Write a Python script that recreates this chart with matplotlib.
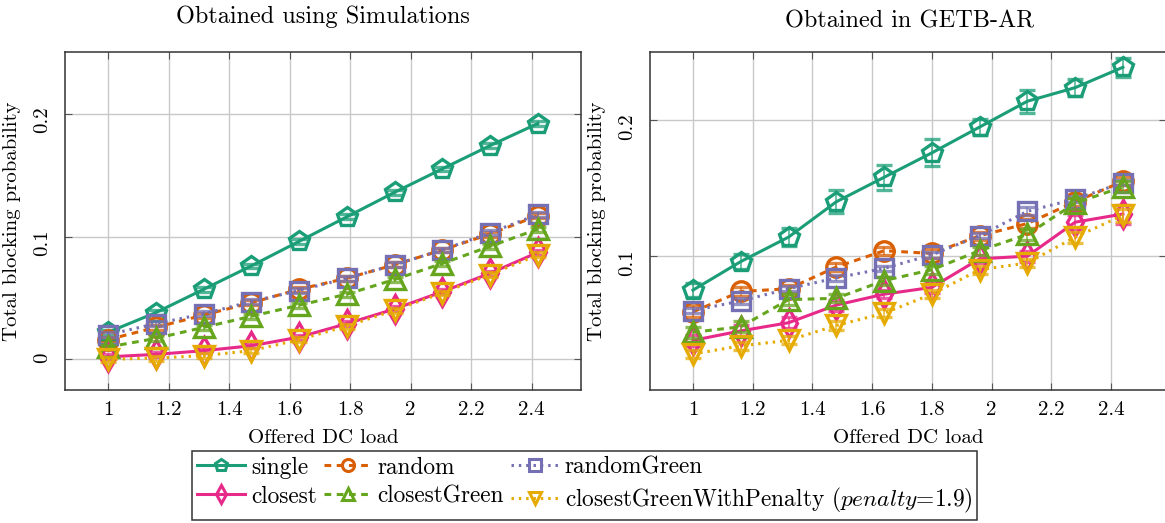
"""
Total blocking probability vs offered DC load, simulations vs GETB-AR.
"""

import matplotlib.pyplot as plt
from matplotlib.lines import Line2D

plt.rcParams['font.family'] = ['cmr10', 'DejaVu Serif']
plt.rcParams['mathtext.fontset'] = 'cm'
plt.rcParams['axes.formatter.use_mathtext'] = True

# offered DC load (x) for both panels
load_sim = [1.0, 1.158, 1.316, 1.473, 1.631, 1.789, 1.947, 2.104, 2.262, 2.42]
load_getb = [1.0, 1.16, 1.32, 1.48, 1.64, 1.8, 1.96, 2.12, 2.28, 2.44]

# left panel: obtained using simulations
sim_single = [0.022, 0.038, 0.057, 0.076, 0.096, 0.116, 0.136, 0.155, 0.174, 0.192]
sim_random = [0.016, 0.026, 0.036, 0.046, 0.057, 0.066, 0.077, 0.089, 0.102, 0.117]
sim_random_green = [0.020, 0.029, 0.037, 0.047, 0.056, 0.066, 0.077, 0.089, 0.103, 0.118]
sim_closest = [0.002, 0.004, 0.007, 0.011, 0.018, 0.029, 0.041, 0.055, 0.070, 0.087]
sim_closest_green = [0.010, 0.017, 0.026, 0.035, 0.044, 0.053, 0.065, 0.078, 0.092, 0.106]
sim_penalty = [0.000, 0.001, 0.003, 0.007, 0.016, 0.027, 0.040, 0.054, 0.069, 0.085]
sim_err = [0.002, 0.002, 0.002, 0.002, 0.002, 0.002, 0.002, 0.002, 0.002, 0.002]

# right panel: obtained in GETB-AR
getb_single = [0.075, 0.096, 0.114, 0.140, 0.158, 0.176, 0.195, 0.214, 0.224, 0.239]
getb_random = [0.059, 0.074, 0.076, 0.092, 0.104, 0.102, 0.115, 0.124, 0.140, 0.155]
getb_random_green = [0.060, 0.067, 0.076, 0.084, 0.091, 0.101, 0.115, 0.133, 0.142, 0.154]
getb_closest = [0.038, 0.045, 0.051, 0.064, 0.072, 0.077, 0.098, 0.100, 0.125, 0.131]
getb_closest_green = [0.044, 0.048, 0.068, 0.069, 0.082, 0.090, 0.104, 0.116, 0.139, 0.151]
getb_penalty = [0.028, 0.034, 0.038, 0.049, 0.058, 0.072, 0.090, 0.095, 0.114, 0.130]

err_single = [0.005, 0.0055, 0.0065, 0.0085, 0.009, 0.010, 0.006, 0.0085, 0.0065, 0.007]
err_random = [0.004, 0.003, 0.003, 0.003, 0.003, 0.003, 0.003, 0.003, 0.003, 0.003]
err_random_green = [0.002, 0.002, 0.002, 0.002, 0.002, 0.002, 0.002, 0.003, 0.002, 0.002]
err_closest = [0.004, 0.004, 0.004, 0.004, 0.003, 0.004, 0.003, 0.004, 0.005, 0.007]
err_closest_green = [0.004, 0.004, 0.004, 0.003, 0.003, 0.003, 0.003, 0.004, 0.004, 0.004]
err_penalty = [0.003, 0.003, 0.003, 0.003, 0.003, 0.003, 0.003, 0.003, 0.004, 0.005]

names = ['single', 'random', 'randomGreen', 'closest', 'closestGreen',
         r'closestGreenWithPenalty ($\mathit{penalty}$=1.9)']
colors = ['#1b9e77', '#d95f02', '#7570b3', '#e7298a', '#66a61e', '#e6ab02']
markers = ['p', 'o', 's', 'd', '^', 'v']
msizes = [15, 14, 13, 14, 14, 14]
styles = ['-', (0, (2.2, 1.8)), (0, (0.8, 1.6)), '-', (0, (2.2, 1.8)),
          (0, (0.8, 1.6))]

x_ticks = [1, 1.2, 1.4, 1.6, 1.8, 2, 2.2, 2.4]
x_labels = ['1', '1.2', '1.4', '1.6', '1.8', '2', '2.2', '2.4']


def draw_panel(ax, x, series, errs):
    for i, y in enumerate(series):
        cont = ax.errorbar(x, y, yerr=errs[i], color=colors[i],
                           marker=markers[i], ms=msizes[i], mfc='none',
                           mec=colors[i], mew=2.4, ls=styles[i], lw=2.2,
                           capsize=5.5, elinewidth=1.2, capthick=1.2,
                           zorder=3 + i)
        for part in cont[1] + cont[2]:
            part.set_alpha(0.75)
    ax.grid(True, color='#c8c8c8', lw=1)
    ax.set_axisbelow(True)
    ax.set_xticks(x_ticks, x_labels)
    ax.tick_params(direction='in', top=True, right=True, length=5,
                   color='#555555', labelsize=15, pad=8)
    ax.tick_params(axis='y', labelrotation=90, pad=10)
    ax.set_xlabel('Offered DC load', fontsize=15, labelpad=7)
    ax.set_ylabel('Total blocking probability', fontsize=15, labelpad=9)
    for sp in ax.spines.values():
        sp.set_color('#333333')
        sp.set_linewidth(1.1)


fig = plt.figure(figsize=(11.65, 5.23), dpi=100)
ax1 = fig.add_axes([0.0558, 0.2543, 0.4427, 0.6457])
ax2 = fig.add_axes([0.5579, 0.2543, 0.4429, 0.6457])

draw_panel(ax1, load_sim,
           [sim_single, sim_random, sim_random_green, sim_closest,
            sim_closest_green, sim_penalty],
           [sim_err] * 6)
ax1.set_xlim(0.858, 2.562)
ax1.set_ylim(-0.025, 0.25)
ax1.set_yticks([0, 0.1, 0.2], ['0', '0.1', '0.2'])

draw_panel(ax2, load_getb,
           [getb_single, getb_random, getb_random_green,
            getb_closest, getb_closest_green, getb_penalty],
           [err_single, err_random, err_random_green, err_closest,
            err_closest_green, err_penalty])
ax2.set_xlim(0.856, 2.584)
ax2.set_ylim(0.0015, 0.25)
ax2.set_yticks([0.1, 0.2], ['0.1', '0.2'])

fig.text(0.277, 0.9675, 'Obtained using Simulations', fontsize=17.5,
         ha='center', va='center')
fig.text(0.781, 0.959, 'Obtained in GETB-AR', fontsize=17.5,
         ha='center', va='center')

# legend proxies, filled row by row (matplotlib fills columns, so reorder)
proxies = [Line2D([], [], color=colors[i], marker=markers[i],
                  ms=msizes[i] * 0.62, mfc='none', mec=colors[i], mew=2.2,
                  ls=styles[i], lw=2.2) for i in range(6)]
order = [0, 3, 1, 4, 2, 5]
leg = fig.legend([proxies[k] for k in order], [names[k] for k in order],
                 ncol=3, loc='center', bbox_to_anchor=(0.502, 0.0717),
                 fontsize=16.8, frameon=True, fancybox=False,
                 edgecolor='black', handlelength=2.05, handletextpad=0.25,
                 columnspacing=0.3, borderpad=0.22, labelspacing=0.3)
leg.get_frame().set_linewidth(1.1)

fig.savefig('out.png', dpi=100)
